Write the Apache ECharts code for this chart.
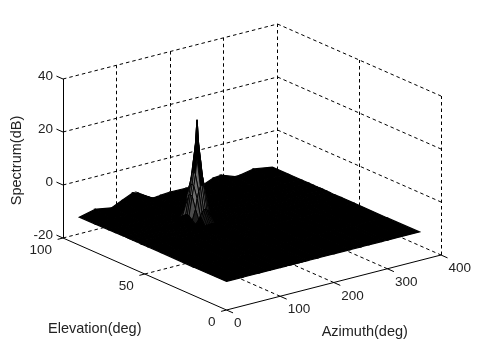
<!DOCTYPE html>
<html>
<head>
<meta charset="utf-8">
<style>html,body{margin:0;padding:0;background:#fff}#c{width:486px;height:350px}</style>
<script src="https://cdn.jsdelivr.net/npm/echarts@6/dist/echarts.min.js"></script>
</head>
<body>
<div id="c"></div>
<script>
// ---- data ----
const azimuthTicks = [0, 100, 200, 300, 400];
const elevationTicks = [0, 50, 100];
const spectrumTicks = [-20, 0, 20, 40];
const azimuthTitle = 'Azimuth(deg)';
const elevationTitle = 'Elevation(deg)';
const spectrumTitle = 'Spectrum(dB)';

const azimuth = [0,30,60,80,100,110,116,119,122,125,128,131,134,137,140,146,152,170,200,230,250,265,290,300,325,360];
const elevation = [0,20,40,48,52,55,57,59,60,61,63,65,68,72,80,90];
// spectrum in dB: one row per elevation, one column per azimuth
const spectrum = [
[-9.2,-9.2,-9.2,-9.2,-9.2,-9.2,-9.2,-9.2,-9.2,-9.2,-9.2,-9.2,-9.2,-9.2,-9.2,-9.2,-9.2,-9.2,-9.2,-9.2,-9.2,-9.2,-9.2,-9.2,-9.2,-9.2],
[-9.3,-9.2,-9.2,-9.3,-9.2,-9.2,-9.1,-9.2,-9.1,-9.2,-9.1,-9.1,-9.2,-9.1,-9.2,-9.2,-9.3,-9.2,-9.2,-9.3,-9.2,-9.2,-9.3,-9.2,-9.2,-9.3],
[-9.2,-9.2,-9.3,-9.2,-9.2,-9.2,-9.2,-9.2,-9.2,-9.1,-9.1,-9.1,-9.2,-9.2,-9.2,-9.2,-9.2,-9.2,-9.3,-9.2,-9.2,-9.3,-9.2,-9.2,-9.3,-9.2],
[-9.2,-9.2,-9.2,-9.2,-9.2,-9.2,-9.2,-9.2,-9.2,-9.2,-9.1,-9.2,-9.2,-9.2,-9.2,-9.2,-9.2,-9.2,-9.2,-9.2,-9.3,-9.2,-9.2,-9.2,-9.2,-9.2],
[-9.3,-9.2,-9.2,-9.2,-9.2,-9.2,-8.9,-8.8,-8.6,-8.5,-8.5,-8.5,-8.6,-8.8,-8.9,-9.2,-9.2,-9.2,-9.2,-9.2,-9.2,-9.2,-9.3,-9.2,-9.2,-9.3],
[-9.2,-9.2,-9.2,-9.1,-9.2,-8.4,-6.9,-5.7,-4.6,-3.8,-3.5,-3.8,-4.6,-5.7,-6.9,-8.4,-9.0,-9.2,-9.2,-9.2,-9.2,-9.3,-9.2,-9.2,-9.2,-9.2],
[-9.2,-9.2,-9.2,-9.1,-9.1,-7.4,-3.5,0.3,2.9,4.5,5.0,4.5,2.9,0.3,-3.5,-7.4,-8.8,-9.2,-9.2,-9.1,-9.2,-9.2,-9.2,-9.2,-9.1,-9.2],
[-9.2,-9.2,-9.1,-9.0,-9.0,-6.3,0.8,4.5,8.6,14.5,19.0,14.5,8.6,4.5,0.8,-6.3,-8.5,-9.2,-9.2,-9.1,-9.2,-9.1,-9.2,-9.2,-9.1,-9.2],
[-9.2,-9.2,-9.1,-9.0,-9.0,-6.1,1.2,5.0,10.0,19.0,28.8,19.0,10.0,5.0,1.2,-6.1,-8.5,-9.2,-9.2,-9.1,-9.2,-9.1,-9.2,-9.2,-9.1,-9.2],
[-9.2,-9.2,-9.1,-9.0,-9.0,-6.3,0.8,4.5,8.6,14.5,19.0,14.5,8.6,4.5,0.8,-6.3,-8.5,-9.2,-9.2,-9.1,-9.2,-9.1,-9.2,-9.2,-9.1,-9.2],
[-9.2,-9.2,-9.2,-9.1,-9.1,-7.4,-3.5,0.3,2.9,4.5,5.0,4.5,2.9,0.3,-3.5,-7.4,-8.8,-9.2,-9.2,-9.1,-9.2,-9.2,-9.2,-9.2,-9.1,-9.2],
[-9.2,-9.2,-9.2,-9.0,-9.0,-8.4,-6.9,-5.7,-4.6,-3.8,-3.5,-3.8,-4.6,-5.7,-6.9,-8.4,-9.0,-9.2,-9.2,-9.2,-9.1,-9.1,-9.2,-9.2,-9.1,-9.2],
[-9.3,-9.2,-9.2,-8.9,-8.8,-9.0,-8.9,-8.8,-8.6,-8.5,-8.5,-8.5,-8.6,-8.8,-8.9,-9.2,-9.2,-9.2,-9.1,-9.2,-9.0,-8.9,-9.2,-9.2,-9.0,-9.2],
[-9.3,-9.1,-9.2,-8.8,-8.2,-8.5,-8.7,-8.7,-8.8,-8.8,-8.8,-8.8,-8.9,-8.9,-9.0,-9.0,-9.1,-9.1,-9.1,-9.2,-8.9,-8.8,-9.2,-9.2,-9.0,-9.2],
[-9.4,-8.8,-9.2,-8.4,-7.4,-7.8,-8.1,-8.3,-8.5,-8.7,-8.8,-8.9,-9.0,-9.2,-9.2,-9.2,-9.1,-9.0,-9.0,-9.3,-8.6,-8.4,-9.2,-9.2,-8.8,-9.2],
[-9.4,-8.0,-9.0,-7.2,-5.4,-6.0,-6.8,-7.2,-7.6,-8.0,-8.3,-8.7,-9.0,-9.3,-9.3,-9.2,-9.0,-8.7,-8.8,-9.3,-7.6,-7.3,-9.2,-9.1,-8.1,-9.2]
];

// ---- view of the 3-D box on the page plane ----
const VIEW = {ox:226.5, oy:310, azX:0.53625, azY:-0.1375, elX:-1.635, elY:-0.72, zY:-2.65, zBase:-20};
function project(az, el, z) {
  return [VIEW.ox + az*VIEW.azX + el*VIEW.elX,
          VIEW.oy + az*VIEW.azY + el*VIEW.elY + (z - VIEW.zBase)*VIEW.zY];
}
const azMax = azimuthTicks[azimuthTicks.length-1], elMax = elevationTicks[elevationTicks.length-1];
const zMin = spectrumTicks[0], zMax = spectrumTicks[spectrumTicks.length-1];

// dashed box grid
const gridSegs = [];
spectrumTicks.forEach(z => {
  gridSegs.push([0,elMax,z, azMax,elMax,z]);
  gridSegs.push([azMax,elMax,z, azMax,0,z]);
});
azimuthTicks.slice(1).forEach(a => {
  gridSegs.push([a,elMax,zMin, a,elMax,zMax]);
  if (a < azMax) gridSegs.push([a,0,zMin, a,elMax,zMin]);
});
elevationTicks.slice(0,-1).forEach(e => {
  gridSegs.push([azMax,e,zMin, azMax,e,zMax]);
  if (e > 0) gridSegs.push([0,e,zMin, azMax,e,zMin]);
});
// solid axis lines and ticks
const axisSegs = [
  [0,elMax,zMin, 0,elMax,zMax],
  [0,elMax,zMin, 0,0,zMin],
  [0,0,zMin, azMax,0,zMin]
];
spectrumTicks.forEach(z => axisSegs.push([0,elMax,z, 0,elMax+4,z]));
elevationTicks.forEach(e => axisSegs.push([0,e,zMin, -10,e,zMin]));
azimuthTicks.forEach(a => axisSegs.push([a,0,zMin, a,-4,zMin]));

// surface faces back to front
const faces = [];
for (let j = elevation.length-2; j >= 0; j--) {
  for (let i = azimuth.length-2; i >= 0; i--) faces.push([i, j]);
}

function segRender(style) {
  return function (params, api) {
    let a = api.coord(project(api.value(0), api.value(1), api.value(2)));
    let b = api.coord(project(api.value(3), api.value(4), api.value(5)));
    if (Math.abs(a[0]-b[0]) < 0.01) { a[0] = b[0] = Math.floor(a[0]) + 0.5; }
    return {type:'line', shape:{x1:a[0],y1:a[1],x2:b[0],y2:b[1]}, style:style};
  };
}
function faceRender(params, api) {
  const i = api.value(0), j = api.value(1);
  const corners = [[i,j],[i+1,j],[i+1,j+1],[i,j+1]];
  const zs = corners.map(c => spectrum[c[1]][c[0]]);
  const pts = corners.map((c,k) => api.coord(project(azimuth[c[0]], elevation[c[1]], zs[k])));
  const spread = Math.max.apply(null,zs) - Math.min.apply(null,zs);
  const mean = zs.reduce((s,v)=>s+v,0)/4;
  let fill = '#000', width = 1.2;
  if (spread > 4 && mean < 8) {
    fill = mean > 0 ? '#6e6e6e' : (mean > -5 ? '#4c4c4c' : '#1c1c1c');
    width = 0.9;
  }
  return {type:'polygon', shape:{points:pts},
          style:{fill:fill, stroke:'#000', lineWidth:width}};
}
const TICK_SIZE = 13.5, TITLE_SIZE = 14.5;
function labelRender(params, api) {
  const p = api.coord(project(api.value(0), api.value(1), api.value(2)));
  const spec = labelItems[params.dataIndex];
  return {type:'text', x:p[0]+spec.dx, y:p[1]+spec.dy, rotation: spec.rot||0,
          style:{fontFamily:'"Liberation Sans", Arial, sans-serif', fontSize:spec.size, fill:'#222',
                 text:spec.text, align:spec.align, verticalAlign:'middle'}};
}
const labelItems = [];
spectrumTicks.forEach(z => labelItems.push({v:[0,elMax,z], text:String(z), dx:-10, dy:-2.5, align:'right', size:TICK_SIZE}));
elevationTicks.forEach(e => labelItems.push({v:[0,e,zMin], text:String(e), dx:-11, dy:12.5, align:'right', size:TICK_SIZE}));
azimuthTicks.forEach(a => labelItems.push({v:[a,0,zMin], text:String(a), dx:7.5, dy:13.5, align:'left', size:TICK_SIZE}));
labelItems.push({v:[0,elMax/2,zMin], text:elevationTitle, dx:-50, dy:55, align:'center', size:TITLE_SIZE});
labelItems.push({v:[azMax/2,0,zMin], text:azimuthTitle, dx:31, dy:49.5, align:'center', size:TITLE_SIZE});
labelItems.push({v:[0,elMax,(zMin+zMax)/2], text:spectrumTitle, dx:-46, dy:2, align:'center', rot:Math.PI/2, size:TITLE_SIZE});

const chart = echarts.init(document.getElementById('c'), null, {renderer:'canvas'});
const gridStyle = {stroke:'#000', lineWidth:1, lineDash:[3.5,3], fill:null};
const axisStyle = {stroke:'#000', lineWidth:1, fill:null};
chart.setOption({
  animation:false,
  backgroundColor:'#fff',
  grid:{left:0,right:0,top:0,bottom:0},
  xAxis:{type:'value',min:0,max:486,show:false},
  yAxis:{type:'value',min:0,max:350,inverse:true,show:false},
  series:[
    {type:'custom',name:'grid',coordinateSystem:'cartesian2d',silent:true,clip:false,data:gridSegs,renderItem:segRender(gridStyle)},
    {type:'custom',name:'spectrum',coordinateSystem:'cartesian2d',silent:true,clip:false,data:faces,renderItem:faceRender,encode:{x:0,y:1}},
    {type:'custom',name:'axes',coordinateSystem:'cartesian2d',silent:true,clip:false,data:axisSegs,renderItem:segRender(axisStyle)},
    {type:'custom',name:'labels',coordinateSystem:'cartesian2d',silent:true,clip:false,data:labelItems.map(l=>l.v),renderItem:labelRender}
  ]
});
</script>
</body>
</html>
